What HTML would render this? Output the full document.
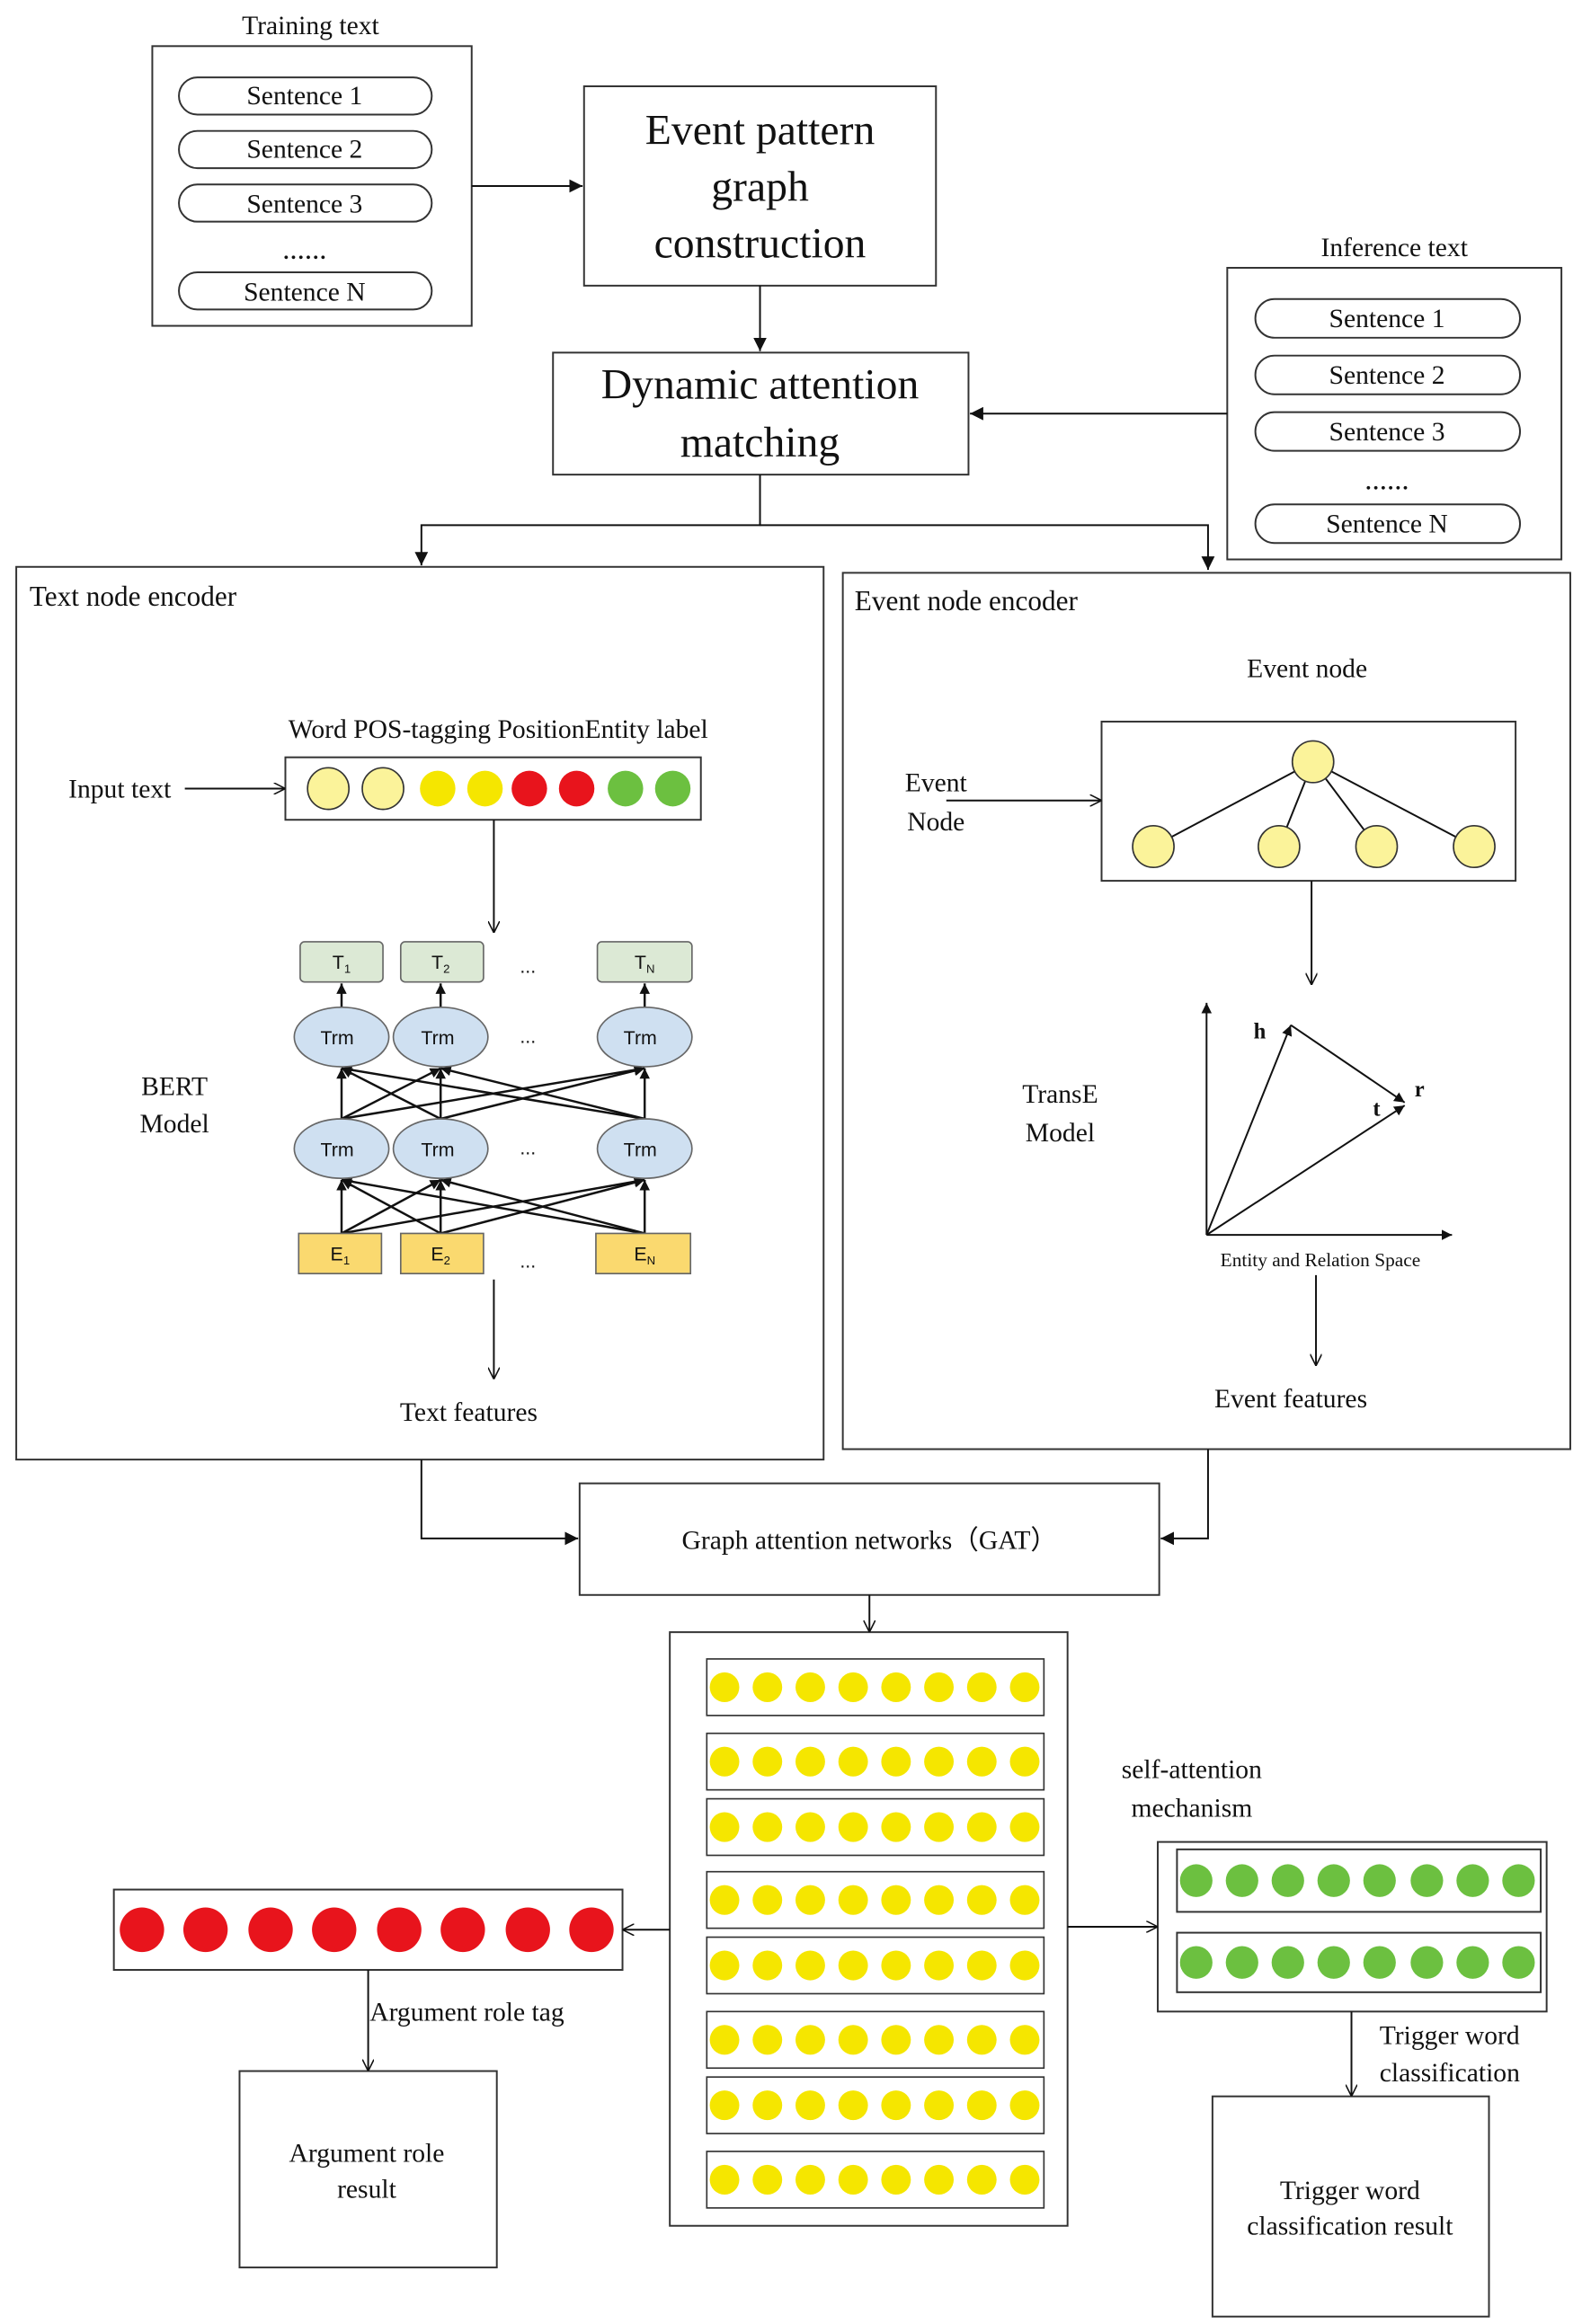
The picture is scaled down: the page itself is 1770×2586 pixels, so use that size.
<!DOCTYPE html>
<html><head><meta charset="utf-8"><style>
html,body{margin:0;padding:0;background:#fff;}
svg{display:block;}
text{font-family:"Liberation Serif",serif;fill:#111;}
.s{font-family:"Liberation Sans",sans-serif;}
</style></head><body>
<svg width="1770" height="2586" viewBox="0 0 1076 1562" preserveAspectRatio="none" xmlns="http://www.w3.org/2000/svg">
<defs>
<marker id="a" viewBox="0 0 10 10" refX="10" refY="5" markerWidth="9" markerHeight="9" orient="auto" markerUnits="userSpaceOnUse"><path d="M0,0 L10,5 L0,10 z" fill="#111"/></marker>
<marker id="o" viewBox="0 0 10 10" refX="10" refY="5" markerWidth="8" markerHeight="8" orient="auto" markerUnits="userSpaceOnUse"><path d="M0,0 L10,5 L0,10" fill="none" stroke="#111" stroke-width="1.2"/></marker>
<marker id="b" viewBox="0 0 10 10" refX="10" refY="5" markerWidth="7" markerHeight="7" orient="auto" markerUnits="userSpaceOnUse"><path d="M0,0 L10,5 L0,10 z" fill="#111"/></marker>
<g id="yr"><circle cx="490" cy="0" r="10"/><circle cx="519" cy="0" r="10"/><circle cx="548" cy="0" r="10"/><circle cx="577" cy="0" r="10"/><circle cx="606" cy="0" r="10"/><circle cx="635" cy="0" r="10"/><circle cx="664" cy="0" r="10"/><circle cx="693" cy="0" r="10"/></g>
</defs>
<g fill="none" stroke="#333" stroke-width="1.2">
<rect x="103" y="31" width="216" height="188"/>
<rect x="121" y="52" width="171" height="25" rx="12.5"/>
<rect x="121" y="88" width="171" height="25" rx="12.5"/>
<rect x="121" y="124" width="171" height="25" rx="12.5"/>
<rect x="121" y="183" width="171" height="25" rx="12.5"/>
<rect x="395" y="58" width="238" height="134"/>
<rect x="374" y="237" width="281" height="82"/>
<rect x="830" y="180" width="226" height="196"/>
<rect x="849" y="201" width="179" height="26" rx="13"/>
<rect x="849" y="239" width="179" height="26" rx="13"/>
<rect x="849" y="277" width="179" height="26" rx="13"/>
<rect x="849" y="339" width="179" height="26" rx="13"/>
<rect x="11" y="381" width="546" height="600"/>
<rect x="570" y="385" width="492" height="589"/>
<rect x="193" y="509" width="281" height="42"/>
<rect x="745" y="485" width="280" height="107"/>
<rect x="392" y="997" width="392" height="75"/>
<rect x="453" y="1097" width="269" height="399"/>
<rect x="77" y="1270" width="344" height="54"/>
<rect x="162" y="1392" width="174" height="132"/>
<rect x="783" y="1238" width="263" height="114"/>
<rect x="796" y="1243" width="246" height="42"/>
<rect x="796" y="1299" width="246" height="40"/>
<rect x="820" y="1409" width="187" height="148"/>
</g>
<g fill="none" stroke="#333" stroke-width="1">
<rect x="478" y="1115" width="228" height="38"/>
<rect x="478" y="1165" width="228" height="38"/>
<rect x="478" y="1209" width="228" height="38"/>
<rect x="478" y="1258" width="228" height="38"/>
<rect x="478" y="1302" width="228" height="38"/>
<rect x="478" y="1352" width="228" height="38"/>
<rect x="478" y="1396" width="228" height="38"/>
<rect x="478" y="1446" width="228" height="38"/>
</g>
<g fill="none" stroke="#111" stroke-width="1.2">
<line x1="319" y1="125" x2="394" y2="125" marker-end="url(#a)"/>
<line x1="514" y1="192" x2="514" y2="236" marker-end="url(#a)"/>
<line x1="830" y1="278" x2="656" y2="278" marker-end="url(#a)"/>
<polyline points="514,319 514,353 285,353 285,380" marker-end="url(#a)"/>
<polyline points="514,353 817,353 817,383" marker-end="url(#a)"/>
<line x1="125" y1="530" x2="193" y2="530" marker-end="url(#o)"/>
<line x1="334" y1="551" x2="334" y2="627" marker-end="url(#o)"/>
<line x1="334" y1="860" x2="334" y2="927" marker-end="url(#o)"/>
<line x1="640" y1="538" x2="745" y2="538" marker-end="url(#o)"/>
<line x1="887" y1="592" x2="887" y2="662" marker-end="url(#o)"/>
<line x1="890" y1="857" x2="890" y2="918" marker-end="url(#o)"/>
<polyline points="285,981 285,1034 391,1034" marker-end="url(#a)"/>
<polyline points="817,974 817,1034 785,1034" marker-end="url(#a)"/>
<line x1="588" y1="1072" x2="588" y2="1097" marker-end="url(#o)"/>
<line x1="453" y1="1297" x2="421" y2="1297" marker-end="url(#o)"/>
<line x1="722" y1="1295" x2="783" y2="1295" marker-end="url(#o)"/>
<line x1="249" y1="1324" x2="249" y2="1392" marker-end="url(#o)"/>
<line x1="914" y1="1352" x2="914" y2="1409" marker-end="url(#o)"/>
<line x1="888" y1="512" x2="780" y2="569"/>
<line x1="888" y1="512" x2="865" y2="569"/>
<line x1="888" y1="512" x2="931" y2="569"/>
<line x1="888" y1="512" x2="997" y2="569"/>
<line x1="816" y1="830" x2="816" y2="674" marker-end="url(#b)"/>
<line x1="816" y1="830" x2="982" y2="830" marker-end="url(#b)"/>
<line x1="816" y1="830" x2="873" y2="689" marker-end="url(#b)"/>
<line x1="873" y1="689" x2="950" y2="741" marker-end="url(#b)"/>
<line x1="816" y1="830" x2="950" y2="743" marker-end="url(#b)"/>
</g>
<g stroke="#111" stroke-width="1.5" fill="none">
<line x1="231" y1="677" x2="231" y2="661" marker-end="url(#b)"/>
<line x1="298" y1="677" x2="298" y2="661" marker-end="url(#b)"/>
<line x1="436" y1="677" x2="436" y2="661" marker-end="url(#b)"/>
<line x1="231" y1="752" x2="231" y2="718" marker-end="url(#b)"/><line x1="231" y1="752" x2="298" y2="718" marker-end="url(#b)"/><line x1="231" y1="752" x2="436" y2="718" marker-end="url(#b)"/>
<line x1="298" y1="752" x2="231" y2="718" marker-end="url(#b)"/><line x1="298" y1="752" x2="298" y2="718" marker-end="url(#b)"/><line x1="298" y1="752" x2="436" y2="718" marker-end="url(#b)"/>
<line x1="436" y1="752" x2="231" y2="718" marker-end="url(#b)"/><line x1="436" y1="752" x2="298" y2="718" marker-end="url(#b)"/><line x1="436" y1="752" x2="436" y2="718" marker-end="url(#b)"/>
<line x1="231" y1="829" x2="231" y2="793" marker-end="url(#b)"/><line x1="231" y1="829" x2="298" y2="793" marker-end="url(#b)"/><line x1="231" y1="829" x2="436" y2="793" marker-end="url(#b)"/>
<line x1="298" y1="829" x2="231" y2="793" marker-end="url(#b)"/><line x1="298" y1="829" x2="298" y2="793" marker-end="url(#b)"/><line x1="298" y1="829" x2="436" y2="793" marker-end="url(#b)"/>
<line x1="436" y1="829" x2="231" y2="793" marker-end="url(#b)"/><line x1="436" y1="829" x2="298" y2="793" marker-end="url(#b)"/><line x1="436" y1="829" x2="436" y2="793" marker-end="url(#b)"/>
</g>
<g stroke="#666" stroke-width="1">
<rect x="203" y="633" width="56" height="27" rx="3" fill="#dce9d5"/>
<rect x="271" y="633" width="56" height="27" rx="3" fill="#dce9d5"/>
<rect x="404" y="633" width="64" height="27" rx="3" fill="#dce9d5"/>
<ellipse cx="231" cy="697" rx="32" ry="20" fill="#cfe0f1"/>
<ellipse cx="298" cy="697" rx="32" ry="20" fill="#cfe0f1"/>
<ellipse cx="436" cy="697" rx="32" ry="20" fill="#cfe0f1"/>
<ellipse cx="231" cy="772" rx="32" ry="20" fill="#cfe0f1"/>
<ellipse cx="298" cy="772" rx="32" ry="20" fill="#cfe0f1"/>
<ellipse cx="436" cy="772" rx="32" ry="20" fill="#cfe0f1"/>
<rect x="202" y="829" width="56" height="27" fill="#fad96f"/>
<rect x="271" y="829" width="56" height="27" fill="#fad96f"/>
<rect x="403" y="829" width="64" height="27" fill="#fad96f"/>
</g>
<g class="s" font-size="13" text-anchor="middle">
<text class="s" x="231" y="651">T<tspan font-size="8" dy="3">1</tspan></text>
<text class="s" x="298" y="651">T<tspan font-size="8" dy="3">2</tspan></text>
<text class="s" x="436" y="651">T<tspan font-size="8" dy="3">N</tspan></text>
<text class="s" x="228" y="702">Trm</text><text class="s" x="296" y="702">Trm</text><text class="s" x="433" y="702">Trm</text>
<text class="s" x="228" y="777">Trm</text><text class="s" x="296" y="777">Trm</text><text class="s" x="433" y="777">Trm</text>
<text class="s" x="230" y="847">E<tspan font-size="8" dy="3">1</tspan></text>
<text class="s" x="298" y="847">E<tspan font-size="8" dy="3">2</tspan></text>
<text class="s" x="436" y="847">E<tspan font-size="8" dy="3">N</tspan></text>
<text class="s" x="357" y="654">...</text><text class="s" x="357" y="701">...</text><text class="s" x="357" y="776">...</text><text class="s" x="357" y="852">...</text>
</g>
<g stroke="#333" stroke-width="1">
<circle cx="222" cy="530" r="14" fill="#fbf39a"/><circle cx="259" cy="530" r="14" fill="#fbf39a"/>
<circle cx="296" cy="530" r="12" fill="#f5e600" stroke="none"/><circle cx="328" cy="530" r="12" fill="#f5e600" stroke="none"/>
<circle cx="358" cy="530" r="12" fill="#e8141c" stroke="none"/><circle cx="390" cy="530" r="12" fill="#e8141c" stroke="none"/>
<circle cx="423" cy="530" r="12" fill="#6cc040" stroke="none"/><circle cx="455" cy="530" r="12" fill="#6cc040" stroke="none"/>
<circle cx="888" cy="512" r="14" fill="#fbf39a"/>
<circle cx="780" cy="569" r="14" fill="#fbf39a"/><circle cx="865" cy="569" r="14" fill="#fbf39a"/>
<circle cx="931" cy="569" r="14" fill="#fbf39a"/><circle cx="997" cy="569" r="14" fill="#fbf39a"/>
</g>
<g fill="#f5e600">
<use href="#yr" y="1134"/><use href="#yr" y="1184"/><use href="#yr" y="1228"/><use href="#yr" y="1277"/>
<use href="#yr" y="1321"/><use href="#yr" y="1371"/><use href="#yr" y="1415"/><use href="#yr" y="1465"/>
</g>
<g fill="#e8141c">
<circle cx="96" cy="1297" r="15"/><circle cx="139" cy="1297" r="15"/><circle cx="183" cy="1297" r="15"/><circle cx="226" cy="1297" r="15"/>
<circle cx="270" cy="1297" r="15"/><circle cx="313" cy="1297" r="15"/><circle cx="357" cy="1297" r="15"/><circle cx="400" cy="1297" r="15"/>
</g>
<g fill="#6cc040">
<circle cx="809" cy="1264" r="11"/><circle cx="840" cy="1264" r="11"/><circle cx="871" cy="1264" r="11"/><circle cx="902" cy="1264" r="11"/>
<circle cx="933" cy="1264" r="11"/><circle cx="965" cy="1264" r="11"/><circle cx="996" cy="1264" r="11"/><circle cx="1027" cy="1264" r="11"/>
<circle cx="809" cy="1319" r="11"/><circle cx="840" cy="1319" r="11"/><circle cx="871" cy="1319" r="11"/><circle cx="902" cy="1319" r="11"/>
<circle cx="933" cy="1319" r="11"/><circle cx="965" cy="1319" r="11"/><circle cx="996" cy="1319" r="11"/><circle cx="1027" cy="1319" r="11"/>
</g>
<g font-size="18" text-anchor="middle">
<text x="210" y="23">Training text</text>
<text x="206" y="70">Sentence 1</text><text x="206" y="106">Sentence 2</text><text x="206" y="143">Sentence 3</text>
<text x="206" y="174" font-size="20">......</text><text x="206" y="202">Sentence N</text>
<text x="943" y="172">Inference text</text>
<text x="938" y="220">Sentence 1</text><text x="938" y="258">Sentence 2</text><text x="938" y="296">Sentence 3</text>
<text x="938" y="329" font-size="20">......</text><text x="938" y="358">Sentence N</text>
<text x="514" y="97" font-size="29">Event pattern</text>
<text x="514" y="135" font-size="29">graph</text>
<text x="514" y="173" font-size="29">construction</text>
<text x="514" y="268" font-size="29">Dynamic attention</text>
<text x="514" y="307" font-size="29">matching</text>
<text x="20" y="407" text-anchor="start" font-size="19">Text node encoder</text>
<text x="578" y="410" text-anchor="start" font-size="19">Event node encoder</text>
<text x="195" y="496" text-anchor="start">Word  POS-tagging PositionEntity label</text>
<text x="81" y="536">Input text</text>
<text x="118" y="736">BERT</text><text x="118" y="761">Model</text>
<text x="317" y="955">Text features</text>
<text x="884" y="455">Event node</text>
<text x="633" y="532">Event</text><text x="633" y="558">Node</text>
<text x="717" y="741">TransE</text><text x="717" y="767">Model</text>
<text x="893" y="851" font-size="13">Entity and Relation Space</text>
<text x="873" y="946">Event features</text>
<text x="588" y="1041">Graph attention networks（GAT）</text>
<text x="806" y="1195">self-attention</text><text x="806" y="1221">mechanism</text>
<text x="250" y="1358" text-anchor="start">Argument role tag</text>
<text x="248" y="1453">Argument role</text><text x="248" y="1477">result</text>
<text x="933" y="1374" text-anchor="start">Trigger word</text><text x="933" y="1399" text-anchor="start">classification</text>
<text x="913" y="1478">Trigger word</text><text x="913" y="1502">classification result</text>
<text x="852" y="698" font-size="15" font-weight="bold">h</text>
<text x="960" y="737" font-size="15" font-weight="bold">r</text>
<text x="931" y="750" font-size="15" font-weight="bold">t</text>
</g>
</svg>
</body></html>
